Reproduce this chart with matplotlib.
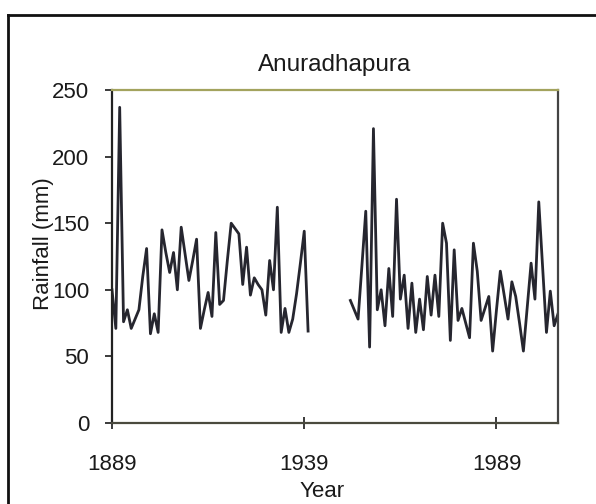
import matplotlib
matplotlib.use("Agg")
import matplotlib.pyplot as plt
from matplotlib.lines import Line2D
import numpy as np

plt.rcParams["font.family"] = ["Liberation Sans", "DejaVu Sans"]

# annual rainfall, first record block
start_1 = 1889
rain_1 = [100, 71, 237, 76, 85, 71, 78, 85, 110, 131,
          67, 82, 68, 145, 128, 113, 128, 100, 147, 127,
          107, 122, 138, 71, 85, 98, 80, 143, 89, 92,
          122, 150, 146, 142, 104, 132, 96, 109, 104, 100,
          81, 122, 100, 162, 68, 86, 68, 78, 97, 120,
          144, 69]

# second record block, after the gap
start_2 = 1951
rain_2 = [92, 85, 78, 118, 159, 57, 221, 85, 100, 73,
          116, 80, 168, 93, 111, 71, 105, 68, 93, 70,
          110, 81, 111, 80, 150, 135, 62, 130, 77, 86,
          75, 64, 135, 114, 77, 86, 95, 54, 85, 114,
          96, 78, 106, 95, 75, 54, 87, 120, 93, 166,
          117, 68, 99, 73, 82]

xticks = [1889, 1939, 1989]
yticks = [0, 50, 100, 150, 200, 250]

years_1 = np.arange(start_1, start_1 + len(rain_1))
years_2 = np.arange(start_2, start_2 + len(rain_2))

fig = plt.figure(figsize=(5.96, 5.04), dpi=100)
fig.patch.set_facecolor("white")
ax = fig.add_axes([112 / 596, 1 - 423 / 504, 446 / 596, 333 / 504])

line_color = "#26262f"
ax.plot(years_1, rain_1, color=line_color, linewidth=2.0)
ax.plot(years_2, rain_2, color=line_color, linewidth=2.0)

ax.set_xlim(1889, 2005)
ax.set_ylim(0, 250)
ax.set_xticks(xticks)
ax.set_yticks(yticks)

ax.tick_params(axis="x", direction="inout", length=9, width=1.2,
               pad=18, labelsize=16, colors="#1a1a1a")
ax.tick_params(axis="y", direction="out", length=5, width=1.2,
               pad=11.5, labelsize=16, colors="#1a1a1a")

ax.spines["top"].set_color("#a3a35e")
ax.spines["bottom"].set_color("#4a4a3e")
ax.spines["left"].set_color("#222222")
ax.spines["right"].set_color("#444444")
for s in ax.spines.values():
    s.set_linewidth(1.6)

ax.set_title("Anuradhapura", fontsize=17.5, color="#1a1a1a", pad=14)
ax.set_ylabel("Rainfall (mm)", fontsize=16, color="#1a1a1a")
ax.yaxis.set_label_coords(-0.13, 0.54)
ax.set_xlabel("Year", fontsize=16, color="#1a1a1a")
ax.xaxis.set_label_coords(0.47, -0.173)

# frame of the scanned figure
fig.add_artist(Line2D([8 / 596, 8 / 596], [0, 1 - 15 / 504],
                      transform=fig.transFigure, color="#111111", linewidth=2))
fig.add_artist(Line2D([8 / 596, 1], [1 - 15 / 504, 1 - 15 / 504],
                      transform=fig.transFigure, color="#111111", linewidth=2))

fig.savefig("out.png", dpi=100)
